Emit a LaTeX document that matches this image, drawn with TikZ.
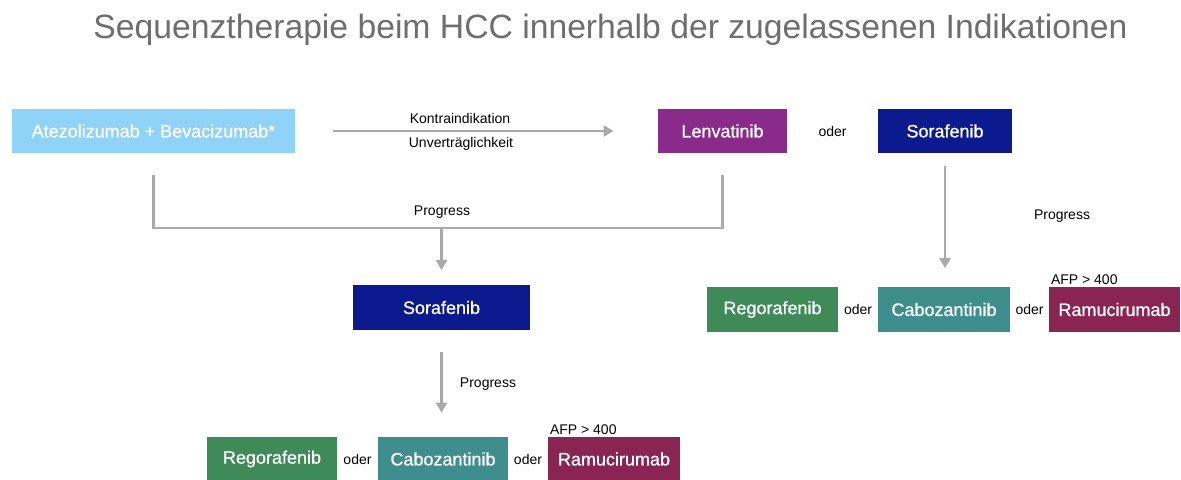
\documentclass[tikz,border=0pt]{standalone}
\usepackage{fontspec}
\setmainfont{Liberation Sans}
\newfontfamily\boxfont{Liberation Sans}[FakeBold=0.8]
\usepackage{tikz}
\usetikzlibrary{shapes.geometric, arrows.meta, calc}
\usepackage{xcolor}
\definecolor{atezoblue}{HTML}{8FD3F9}
\definecolor{lenvapurple}{HTML}{8A2B8C}
\definecolor{soranavy}{HTML}{0B1A8E}
\definecolor{regogreen}{HTML}{3F8B58}
\definecolor{caboteal}{HTML}{3E8E8E}
\definecolor{ramumaroon}{HTML}{8A2452}
\definecolor{flowgray}{HTML}{A9A9A9}
\definecolor{titlegray}{HTML}{6E6E6E}

\begin{document}
\begin{tikzpicture}[x=0.5pt,y=-0.5pt,
  box/.style={minimum height=22pt,inner sep=0pt,text=white,font=\boxfont\fontsize{9}{10}\selectfont},
  small/.style={inner sep=1pt,font=\fontsize{7}{8}\selectfont},
  flow/.style={draw=flowgray,line width=1.25pt,-{Triangle[length=5pt,width=5.5pt]}}]
  \useasboundingbox (0,0) rectangle (1181,480);
  \node[text=titlegray,font=\fontsize{16.85}{20}\selectfont,anchor=base] (title) at (610.5,39) {Sequenztherapie beim HCC innerhalb der zugelassenen Indikationen};
  \node[box,fill=atezoblue,minimum width=141.5pt] (atezo) at (153.5,131) {Atezolizumab + Bevacizumab*};
  \node[box,fill=lenvapurple,minimum width=64.5pt] (lenva) at (722.5,131) {Lenvatinib};
  \node[box,fill=soranavy,minimum width=67pt] (soraA) at (945,131) {Sorafenib};
  \node[small] (oderA) at ($(lenva.east)!0.5!(soraA.west)$) {oder};
  \node[small] (kontra) at (460,118) {Kontraindikation};
  \node[small] (unvert) at (461,144) {Unverträglichkeit};
  \draw[flow,shorten <=19pt,shorten >=22pt] (atezo.east) -- (lenva.west);
  \coordinate (join) at (441.5,228);
  \node[small] (progA) at (442,212) {Progress};
  \draw[flow,-] ([yshift=-11pt]atezo.south) |- (join) -| ([yshift=-11pt]lenva.south);
  \node[box,fill=soranavy,minimum width=88.5pt] (soraB) at (441.5,307.5) {Sorafenib};
  \draw[flow,shorten >=7.5pt] (join) -- (join |- soraB.north);
  \node[box,fill=caboteal,minimum width=65pt] (caboB) at (443,459) {Cabozantinib};
  \node[box,fill=regogreen,minimum width=65pt] (regoB) at (272,459) {Regorafenib};
  \node[box,fill=ramumaroon,minimum width=66pt] (ramuB) at (614,459) {Ramucirumab};
  \node[small] (oderB) at ($(regoB.east)!0.5!(caboB.west)$) {oder};
  \node[small] (oderC) at ($(caboB.east)!0.5!(ramuB.west)$) {oder};
  \node[small,anchor=south west] (afpB) at (ramuB.north west) {AFP > 400};
  \draw[flow,shorten <=11pt,shorten >=12pt] (soraB.south) -- (soraB.south |- caboB.north);
  \node[small] (progB) at (488,384) {Progress};
  \node[box,fill=caboteal,minimum width=66pt] (caboA) at (944,309.5) {Cabozantinib};
  \node[box,fill=regogreen,minimum width=65.5pt] (regoA) at (772.5,309.5) {Regorafenib};
  \node[box,fill=ramumaroon,minimum width=65.5pt] (ramuA) at (1114.5,309.5) {Ramucirumab};
  \node[small] (oderD) at ($(regoA.east)!0.5!(caboA.west)$) {oder};
  \node[small] (oderE) at ($(caboA.east)!0.5!(ramuA.west)$) {oder};
  \node[small,anchor=south west] (afpA) at (ramuA.north west) {AFP > 400};
  \draw[flow,shorten <=6.5pt,shorten >=9.5pt] (soraA.south) -- (soraA.south |- caboA.north);
  \node[small] (progC) at (1062,216) {Progress};
\end{tikzpicture}
\end{document}
